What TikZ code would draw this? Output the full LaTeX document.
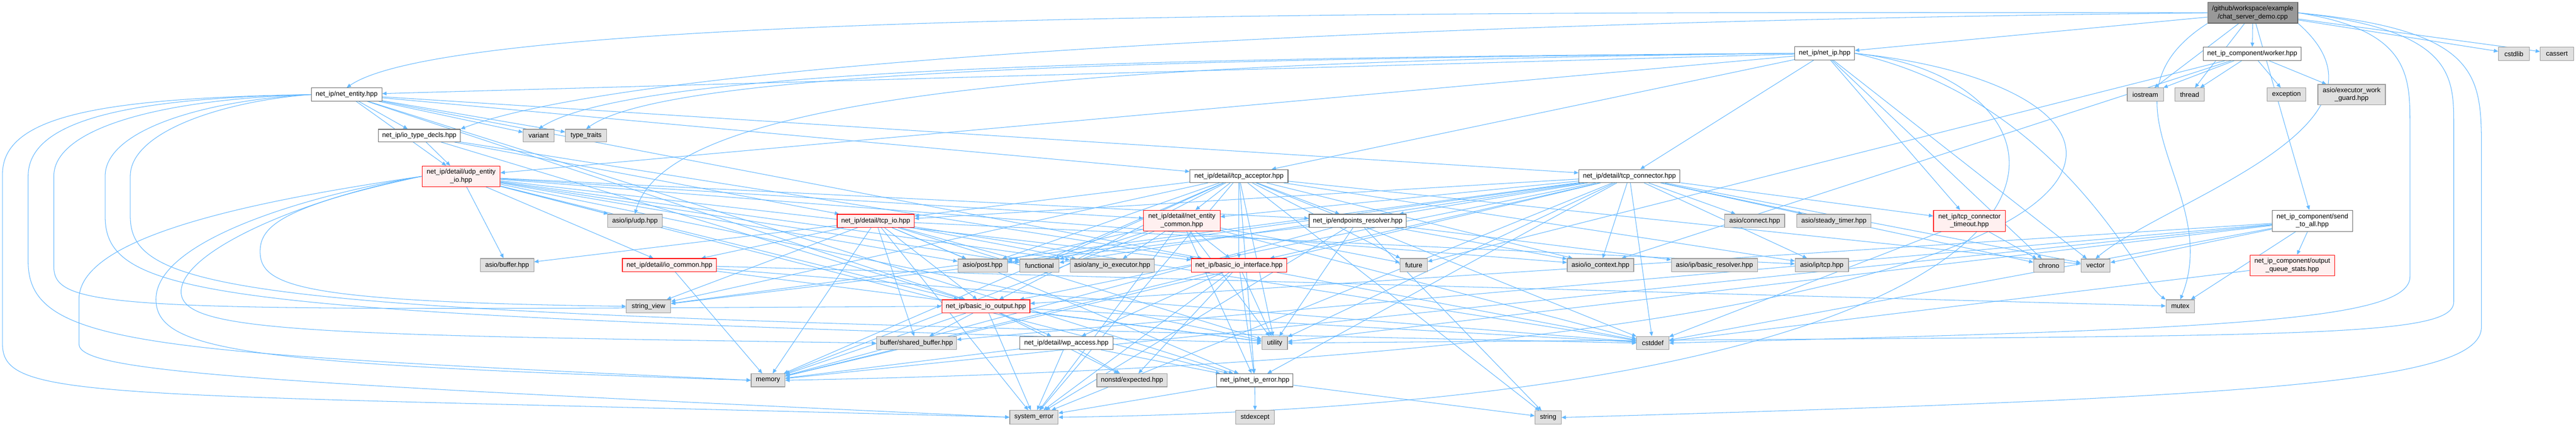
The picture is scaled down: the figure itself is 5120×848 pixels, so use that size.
\documentclass[tikz,border=0pt]{standalone}
\usepackage{fontspec}
\setmainfont{Liberation Sans}
\usetikzlibrary{arrows.meta}
\definecolor{edgec}{HTML}{63B8FF}
\definecolor{extfill}{HTML}{E0E0E0}
\definecolor{extdraw}{HTML}{999999}
\definecolor{whdraw}{HTML}{666666}
\definecolor{redfill}{HTML}{FFF0F0}
\definecolor{rootfill}{HTML}{999999}
\pgfdeclarelayer{bg}
\pgfsetlayers{bg,main}
\newcommand{\N}[7]{\node[#1, minimum width={(#5-#3)*0.75pt}, minimum height={(#6-#4)*0.75pt}] (#2) at ({(#3+#5)/2},{(#4+#6)/2}) {#7};}
\begin{document}
\begin{tikzpicture}[x=0.75pt, y=-0.75pt,
  every node/.style={inner sep=0pt, align=center, line width=0.9pt, font=\fontsize{10}{12}\selectfont},
  ext/.style={draw=extdraw, fill=extfill},
  wh/.style={draw=whdraw, fill=white},
  rd/.style={draw=red, fill=redfill},
  rt/.style={draw=whdraw, fill=rootfill},
  e/.style={draw=edgec, line width=0.8pt, -{Triangle[length=6.5pt,width=5.5pt]}}]
\useasboundingbox (0,0) rectangle (5120,848);
% nodes
\N{rt}{root}{4388}{5}{4567}{46}{/github/workspace/example\\/chat\_server\_demo.cpp}
\N{wh}{netip}{3567}{93}{3686}{119}{net\_ip/net\_ip.hpp}
\N{wh}{worker}{4379}{94}{4574}{120}{net\_ip\_component/worker.hpp}
\N{ext}{cstdlib}{4966}{94}{5027}{120}{cstdlib}
\N{ext}{cassert}{5049}{94}{5115}{120}{cassert}
\N{wh}{ne}{619}{175}{759}{201}{net\_ip/net\_entity.hpp}
\N{ext}{iostream}{4228}{175}{4300}{201}{iostream}
\N{ext}{thread}{4323}{175}{4381}{201}{thread}
\N{ext}{exception}{4506}{175}{4583}{201}{exception}
\N{ext}{wguard}{4607}{168}{4741}{208}{asio/executor\_work\\\_guard.hpp}
\N{wh}{itd}{752}{257}{915}{282}{net\_ip/io\_type\_decls.hpp}
\N{ext}{variant}{1040}{257}{1101}{282}{variant}
\N{ext}{typetraits}{1124}{257}{1206}{282}{type\_traits}
\N{rd}{udpio}{839}{330}{994}{371}{net\_ip/detail/udp\_entity\\\_io.hpp}
\N{wh}{acc}{2365}{337}{2560}{363}{net\_ip/detail/tcp\_acceptor.hpp}
\N{wh}{con}{3138}{337}{3339}{363}{net\_ip/detail/tcp\_connector.hpp}
\N{ext}{udp}{1208}{426}{1316}{452}{asio/ip/udp.hpp}
\N{rd}{tcpio}{1664}{426}{1817}{452}{net\_ip/detail/tcp\_io.hpp}
\N{rd}{nec}{2273}{418}{2425}{459}{net\_ip/detail/net\_entity\\\_common.hpp}
\N{wh}{epr}{2602}{426}{2795}{452}{net\_ip/endpoints\_resolver.hpp}
\N{ext}{connect}{3428}{426}{3547}{452}{asio/connect.hpp}
\N{ext}{stimer}{3571}{426}{3719}{452}{asio/steady\_timer.hpp}
\N{rd}{cto}{3843}{418}{3986}{460}{net\_ip/tcp\_connector\\\_timeout.hpp}
\N{wh}{sta}{4516}{418}{4676}{460}{net\_ip\_component/send\\\_to\_all.hpp}
\N{ext}{buffer}{955}{514}{1061}{540}{asio/buffer.hpp}
\N{rd}{iocommon}{1237}{514}{1424}{540}{net\_ip/detail/io\_common.hpp}
\N{ext}{post}{1904}{515}{2002}{541}{asio/post.hpp}
\N{ext}{functional}{2027}{515}{2105}{541}{functional}
\N{ext}{anyexec}{2127}{515}{2294}{541}{asio/any\_io\_executor.hpp}
\N{rd}{bii}{2368}{514}{2557}{541}{net\_ip/basic\_io\_interface.hpp}
\N{ext}{future}{2783}{514}{2837}{540}{future}
\N{ext}{ioctx}{3115}{514}{3247}{540}{asio/io\_context.hpp}
\N{ext}{bres}{3322}{514}{3493}{540}{asio/ip/basic\_resolver.hpp}
\N{ext}{tcp}{3568}{514}{3674}{540}{asio/ip/tcp.hpp}
\N{ext}{chrono}{4042}{515}{4103}{541}{chrono}
\N{ext}{vector}{4136}{515}{4194}{541}{vector}
\N{rd}{oqs}{4472}{507}{4640}{548}{net\_ip\_component/output\\\_queue\_stats.hpp}
\N{ext}{sv}{1245}{596}{1333}{622}{string\_view}
\N{rd}{bio}{1872}{596}{2047}{622}{net\_ip/basic\_io\_output.hpp}
\N{ext}{mutex}{4305}{596}{4362}{622}{mutex}
\N{ext}{sbuf}{1742}{669}{1901}{695}{buffer/shared\_buffer.hpp}
\N{wh}{wpa}{2027}{669}{2212}{695}{net\_ip/detail/wp\_access.hpp}
\N{ext}{utility}{2508}{669}{2559}{695}{utility}
\N{ext}{cstddef}{3253}{669}{3317}{695}{cstddef}
\N{ext}{memory}{1493}{743}{1560}{769}{memory}
\N{ext}{expected}{2180}{743}{2320}{769}{nonstd/expected.hpp}
\N{wh}{nerr}{2418}{743}{2570}{769}{net\_ip/net\_ip\_error.hpp}
\N{ext}{syserr}{2007}{816}{2103}{843}{system\_error}
\N{ext}{stdexcept}{2456}{816}{2533}{843}{stdexcept}
\N{ext}{string}{3051}{817}{3103}{843}{string}
% edges
\begin{pgfonlayer}{bg}
\fill[white] (0,0) rectangle (5120,848);
\foreach \a/\b in {root/netip, root/worker, root/iostream, root/thread, root/cstdlib, root/cassert, root/sta,
 worker/iostream, worker/thread, worker/exception, worker/wguard, worker/ioctx, worker/future,
 netip/ne, netip/acc, netip/con, netip/udpio, netip/cto, netip/chrono, netip/vector,
 ne/itd, ne/udpio, ne/acc, ne/con, ne/variant, ne/typetraits, ne/bii, ne/bio, ne/nerr,
 itd/udpio, itd/tcpio, itd/bii, itd/bio,
 udpio/udp, udpio/buffer, udpio/iocommon, udpio/nec, udpio/epr, udpio/bii, udpio/bio, udpio/nerr, udpio/post, udpio/functional, udpio/anyexec, udpio/ioctx, udpio/utility,
 tcpio/iocommon, tcpio/buffer, tcpio/tcp, tcpio/post, tcpio/anyexec, tcpio/functional, tcpio/sbuf, tcpio/nerr, tcpio/memory, tcpio/syserr, tcpio/cstddef, tcpio/utility, tcpio/sv, tcpio/bio,
 acc/nec, acc/epr, acc/tcpio, acc/bii, acc/bio, acc/nerr, acc/ioctx, acc/tcp, acc/post, acc/functional, acc/future, acc/memory, acc/syserr, acc/cstddef, acc/utility, acc/vector, acc/sv, acc/string,
 con/nec, con/epr, con/tcpio, con/connect, con/stimer, con/cto, con/ioctx, con/tcp, con/chrono, con/vector, con/post, con/functional, con/memory, con/syserr, con/cstddef, con/utility, con/sv, con/bii, con/bio, con/nerr,
 nec/bii, nec/post, nec/functional, nec/anyexec, nec/future, nec/memory, nec/syserr, nec/utility, nec/nerr, nec/cstddef,
 epr/ioctx, epr/bres, epr/string, epr/sv, epr/syserr, epr/utility, epr/memory,
 bii/wpa, bii/utility, bii/nerr, bii/expected, bii/syserr, bii/memory, bii/cstddef,
 bio/sbuf, bio/wpa, bio/utility, bio/expected, bio/syserr, bio/memory, bio/cstddef,
 wpa/expected, wpa/nerr, wpa/syserr, wpa/memory,
 nerr/stdexcept, nerr/syserr, nerr/string,
 iocommon/mutex, iocommon/cstddef, iocommon/utility, iocommon/memory,
 cto/chrono, cto/cstddef,
 sta/oqs, sta/vector, sta/mutex, sta/memory, sta/cstddef, sta/utility, sta/bio, sta/sbuf,
 oqs/cstddef}
 \draw[e] (\a) -- (\b);
% long curves from the root
\draw[e] (root.west) .. controls (2600,22) and (900,28) .. (ne.north);
\draw[e] (root.west) .. controls (2600,45) and (1250,130) .. (itd.north east);
\draw[e] (root.south west) .. controls (4150,200) and (4420,380) .. (mutex.north);
\draw[e] (root.south east) .. controls (4800,250) and (4300,400) .. (vector.north);
\draw[e] (root.east) .. controls (4790,60) and (4790,150) .. (4790,250) -- (4790,550) .. controls (4790,640) and (4400,655) .. (cstddef.east);
\draw[e] (root.east) .. controls (4877,60) and (4877,150) .. (4877,250) -- (4877,600) .. controls (4877,680) and (4500,665) .. (utility.east);
\draw[e] (root.east) .. controls (4932,60) and (4932,150) .. (4932,300) -- (4932,650) .. controls (4932,760) and (4500,790) .. (string.east);
% curves from net_ip.hpp
\draw[e] (netip.west) .. controls (2200,115) and (1250,140) .. (variant.north);
\draw[e] (netip.west) .. controls (2200,118) and (1320,145) .. (typetraits.north);
\draw[e] (netip.west) .. controls (2200,122) and (1330,180) .. (udp.north);
\draw[e] (netip.east) .. controls (4200,160) and (4300,800) .. (syserr.east);
\draw[e] (netip.east) .. controls (4400,180) and (4500,700) .. (memory.east);
\draw[e] (netip.east) .. controls (4100,200) and (4250,560) .. (mutex.north west);
% loops on the left from net_entity.hpp
\draw[e] (ne.west) .. controls (200,195) and (5,230) .. (5,346) -- (5,684) .. controls (5,800) and (200,780) .. (syserr.west);
\draw[e] (ne.west) .. controls (250,195) and (56,240) .. (56,350) -- (56,520) .. controls (56,690) and (300,700) .. (memory.west);
\draw[e] (ne.west) .. controls (300,198) and (107,260) .. (107,350) -- (107,530) .. controls (107,620) and (250,618) .. (bio.west);
\draw[e] (ne.west) .. controls (400,200) and (209,260) .. (209,350) -- (209,430) .. controls (209,600) and (450,622) .. (utility.west);
\draw[e] (ne.west) .. controls (450,200) and (259,260) .. (259,350) -- (259,430) .. controls (259,600) and (550,625) .. (cstddef.west);
% loops on the left from udp_entity_io.hpp
\draw[e] (udpio.west) .. controls (500,400) and (157,470) .. (157,595) -- (157,684) .. controls (157,740) and (500,760) .. (syserr.west);
\draw[e] (udpio.west) .. controls (600,390) and (310,480) .. (310,595) .. controls (310,700) and (500,724) .. (memory.west);
\draw[e] (udpio.west) .. controls (600,395) and (360,500) .. (360,580) .. controls (360,660) and (600,666) .. (sbuf.west);
\draw[e] (udpio.west) .. controls (560,410) and (517,450) .. (517,500) .. controls (517,570) and (600,600) .. (sv.west);
\end{pgfonlayer}
\end{tikzpicture}
\end{document}
